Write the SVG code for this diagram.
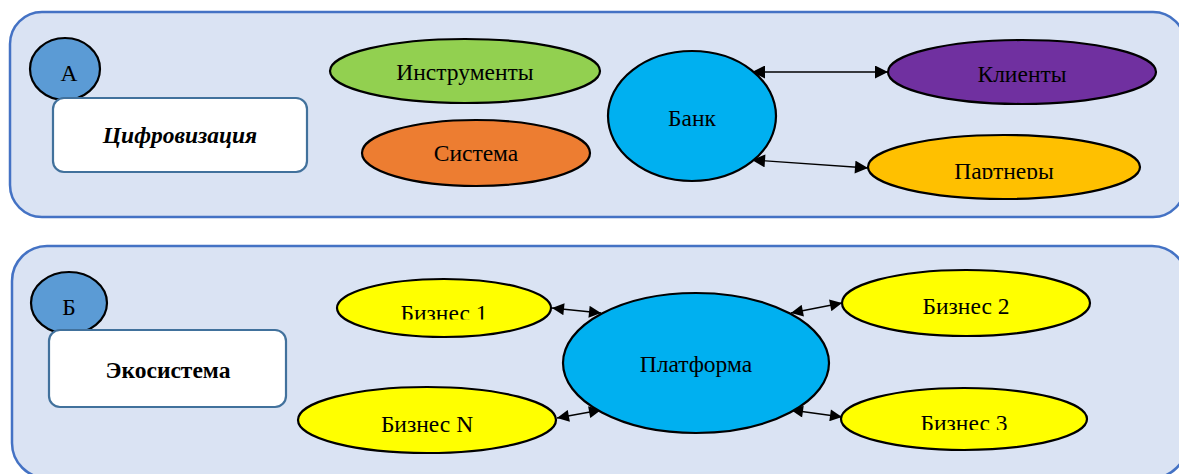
<svg xmlns="http://www.w3.org/2000/svg" width="1179" height="474" viewBox="0 0 1179 474">
<style>
.panel{fill:#DAE3F3;stroke:#4472C4;stroke-width:2.5}
.node{stroke:#000;stroke-width:2.2}
.box{fill:#fff;stroke:#41719C;stroke-width:2.2}
.t{font-family:"Liberation Serif","Times New Roman",serif;font-size:23.5px;fill:#000;text-anchor:middle}
.b{font-weight:bold}
.conn{stroke:#000;stroke-width:1.3;fill:none}
</style>
<defs>
<marker id="ah" viewBox="0 0 10 10" refX="10" refY="5" markerUnits="userSpaceOnUse" markerWidth="15" markerHeight="13" orient="auto-start-reverse"><path d="M0,0 L10,5 L0,10 z" fill="#000"/></marker>
<marker id="ah2" viewBox="0 0 10 10" refX="10" refY="5" markerUnits="userSpaceOnUse" markerWidth="13" markerHeight="12" orient="auto-start-reverse"><path d="M0,0 L10,5 L0,10 z" fill="#000"/></marker>
<clipPath id="cPart"><rect x="860" y="130" width="290" height="49"/></clipPath>
<clipPath id="cB1"><rect x="330" y="270" width="230" height="49.5"/></clipPath>
<clipPath id="cB3"><rect x="835" y="380" width="260" height="50"/></clipPath>
</defs>
<g id="panelA"><rect class="panel" x="10" y="12" width="1175" height="205" rx="32"/></g>
<g id="panelB"><rect class="panel" x="12" y="246" width="1175" height="232" rx="35"/></g>
<g id="connectors">
<line class="conn" x1="752" y1="72" x2="888" y2="72" marker-start="url(#ah)" marker-end="url(#ah)"/>
<line class="conn" x1="752" y1="160" x2="868" y2="168" marker-start="url(#ah)" marker-end="url(#ah)"/>
<line class="conn" x1="552" y1="308" x2="601" y2="313" marker-start="url(#ah2)" marker-end="url(#ah2)"/>
<line class="conn" x1="791" y1="313" x2="842" y2="303" marker-start="url(#ah2)" marker-end="url(#ah2)"/>
<line class="conn" x1="557" y1="418" x2="601" y2="410" marker-start="url(#ah2)" marker-end="url(#ah2)"/>
<line class="conn" x1="791" y1="410" x2="842" y2="417" marker-start="url(#ah2)" marker-end="url(#ah2)"/>
</g>
<g id="nodeA"><ellipse class="node" cx="65" cy="69" rx="35" ry="31" fill="#5B9BD5"/><text class="t" x="69" y="81" font-size="21">А</text></g>
<g id="digit"><rect class="box" x="53" y="98" width="254" height="74" rx="11"/><text class="t b" x="180" y="143" font-style="italic" font-size="25">Цифровизация</text></g>
<g id="instr"><ellipse class="node" cx="465" cy="71" rx="135" ry="32" fill="#92D050"/><text class="t" x="465" y="80">Инструменты</text></g>
<g id="sys"><ellipse class="node" cx="476" cy="153" rx="114" ry="33" fill="#ED7D31"/><text class="t" x="476" y="161">Система</text></g>
<g id="bank"><ellipse class="node" cx="692" cy="116" rx="84" ry="65" fill="#00B0F0"/><text class="t" x="692" y="126">Банк</text></g>
<g id="clients"><ellipse class="node" cx="1022" cy="72" rx="134" ry="32" fill="#7030A0"/><text class="t" x="1022" y="82">Клиенты</text></g>
<g id="partners"><ellipse class="node" cx="1004" cy="167" rx="136" ry="32" fill="#FFC000"/><text class="t" x="1004" y="179" clip-path="url(#cPart)">Партнеры</text></g>
<g id="nodeB"><ellipse class="node" cx="69" cy="303" rx="38" ry="31" fill="#5B9BD5"/><text class="t" x="69" y="315" font-size="20">Б</text></g>
<g id="eco"><rect class="box" x="49" y="330" width="237" height="77" rx="11"/><text class="t b" x="168" y="378" font-size="24">Экосистема</text></g>
<g id="biz1"><ellipse class="node" cx="444" cy="308" rx="107" ry="29" fill="#FFFF00"/><text class="t" x="444" y="321" clip-path="url(#cB1)">Бизнес 1</text></g>
<g id="bizN"><ellipse class="node" cx="427" cy="420" rx="129" ry="33" fill="#FFFF00"/><text class="t" x="427" y="432">Бизнес N</text></g>
<g id="platform"><ellipse class="node" cx="696" cy="363" rx="133" ry="70" fill="#00B0F0"/><text class="t" x="696" y="372">Платформа</text></g>
<g id="biz2"><ellipse class="node" cx="966" cy="303" rx="124" ry="33" fill="#FFFF00"/><text class="t" x="966" y="314">Бизнес 2</text></g>
<g id="biz3"><ellipse class="node" cx="964" cy="419" rx="123" ry="31" fill="#FFFF00"/><text class="t" x="964" y="431" clip-path="url(#cB3)">Бизнес 3</text></g>
</svg>
